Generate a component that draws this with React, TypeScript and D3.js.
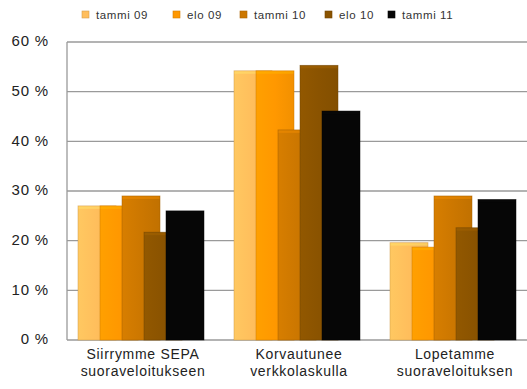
import React from "react";
import * as d3 from "d3";

const categories = [
  ["Siirrymme SEPA", "suoraveloitukseen"],
  ["Korvautunee", "verkkolaskulla"],
  ["Lopetamme", "suoraveloituksen"],
];
const seriesNames = ["tammi 09", "elo 09", "tammi 10", "elo 10", "tammi 11"];
const seriesColors = ["#FFBE5C", "#FF9800", "#CC7700", "#8A5300", "#060606"];
const values = [
  [27, 27, 29, 21.7, 26],
  [54.2, 54.2, 42.3, 55.3, 46.1],
  [19.6, 18.7, 29, 22.6, 28.3],
];
const yTicks = [0, 10, 20, 30, 40, 50, 60];

const W = 527;
const H = 389;

export default function App() {
  const y = d3.scaleLinear().domain([0, 60]).range([340, 42]);
  const x0 = d3
    .scaleBand<number>()
    .domain(d3.range(categories.length))
    .range([63, 531])
    .paddingInner(0.1923)
    .paddingOuter(0.09615);
  const x1 = d3.scalePoint<number>().domain(d3.range(seriesNames.length)).range([0, 88]);
  const barW = 38;
  const axisX = 67;
  const legendX = [82, 173, 240, 325, 388];

  return (
    <div style={{ position: "fixed", left: 0, top: 0 }}>
      <svg width={W} height={H} style={{ display: "block", background: "#fff" }}>
        <defs>
          {seriesColors.map((c, i) => (
            <linearGradient key={i} id={`g${i}`} x1="0" x2="1" y1="0" y2="0">
              <stop offset="0" stopColor={d3.color(c)!.brighter(0.15).formatHex()} />
              <stop offset="0.5" stopColor={c} />
              <stop offset="1" stopColor={d3.color(c)!.darker(0.15).formatHex()} />
            </linearGradient>
          ))}
        </defs>
        {/* gridlines */}
        {yTicks.map((t) => (
          <line key={t} x1={axisX} x2={W} y1={y(t)} y2={y(t)} stroke="#9a9a9a" strokeWidth={1.3} />
        ))}
        <line x1={axisX} x2={axisX} y1={y(60)} y2={y(0)} stroke="#9a9a9a" strokeWidth={1.3} />
        {/* y labels */}
        {yTicks.map((t) => (
          <text
            key={t}
            x={49}
            y={y(t) - 1}
            dy="0.35em"
            textAnchor="end"
            fontFamily="Liberation Sans, Arial, sans-serif"
            fontSize={15}
            letterSpacing={0.8}
            fill="#222"
          >
            {`${t} %`}
          </text>
        ))}
        {/* bars */}
        {values.map((row, ci) => (
          <g key={ci}>
            {row.map((v, si) => {
              const bx = x0(ci)! + x1(si)!;
              const by = y(v);
              return (
                <g key={si}>
                  <rect
                    x={bx}
                    y={by}
                    width={barW}
                    height={y(0) - by}
                    fill={`url(#g${si})`}
                    stroke={d3.color(seriesColors[si])!.darker(0.6).formatHex()}
                    strokeOpacity={0.6}
                    strokeWidth={0.8}
                  />
                  <rect
                    x={bx + 0.5}
                    y={by + 0.5}
                    width={barW - 1}
                    height={2.5}
                    fill={d3.color(seriesColors[si])!.brighter(0.5).formatHex()}
                    opacity={0.5}
                  />
                </g>
              );
            })}
          </g>
        ))}
        {/* category labels */}
        {categories.map((lines, ci) => (
          <text
            key={ci}
            x={x0(ci)! + x0.bandwidth() / 2 + 2}
            y={359}
            textAnchor="middle"
            fontFamily="Liberation Sans, Arial, sans-serif"
            fontSize={14}
            letterSpacing={0.7}
            fill="#222"
          >
            {lines.map((l, li) => (
              <tspan key={li} x={x0(ci)! + x0.bandwidth() / 2 + 2} dy={li === 0 ? 0 : 17}>
                {l}
              </tspan>
            ))}
          </text>
        ))}
        {/* legend */}
        {seriesNames.map((s, i) => (
          <g key={s} transform={`translate(${legendX[i]},15)`}>
            <rect x={0} y={-4} width={7} height={7} fill={seriesColors[i]} stroke={d3.color(seriesColors[i])!.darker(0.5).formatHex()} strokeWidth={0.6} />
            <text
              x={14}
              y={0}
              dy="0.35em"
              fontFamily="Liberation Sans, Arial, sans-serif"
              fontSize={11.5}
              letterSpacing={0.6}
              fill="#333"
            >
              {s}
            </text>
          </g>
        ))}
      </svg>
    </div>
  );
}
